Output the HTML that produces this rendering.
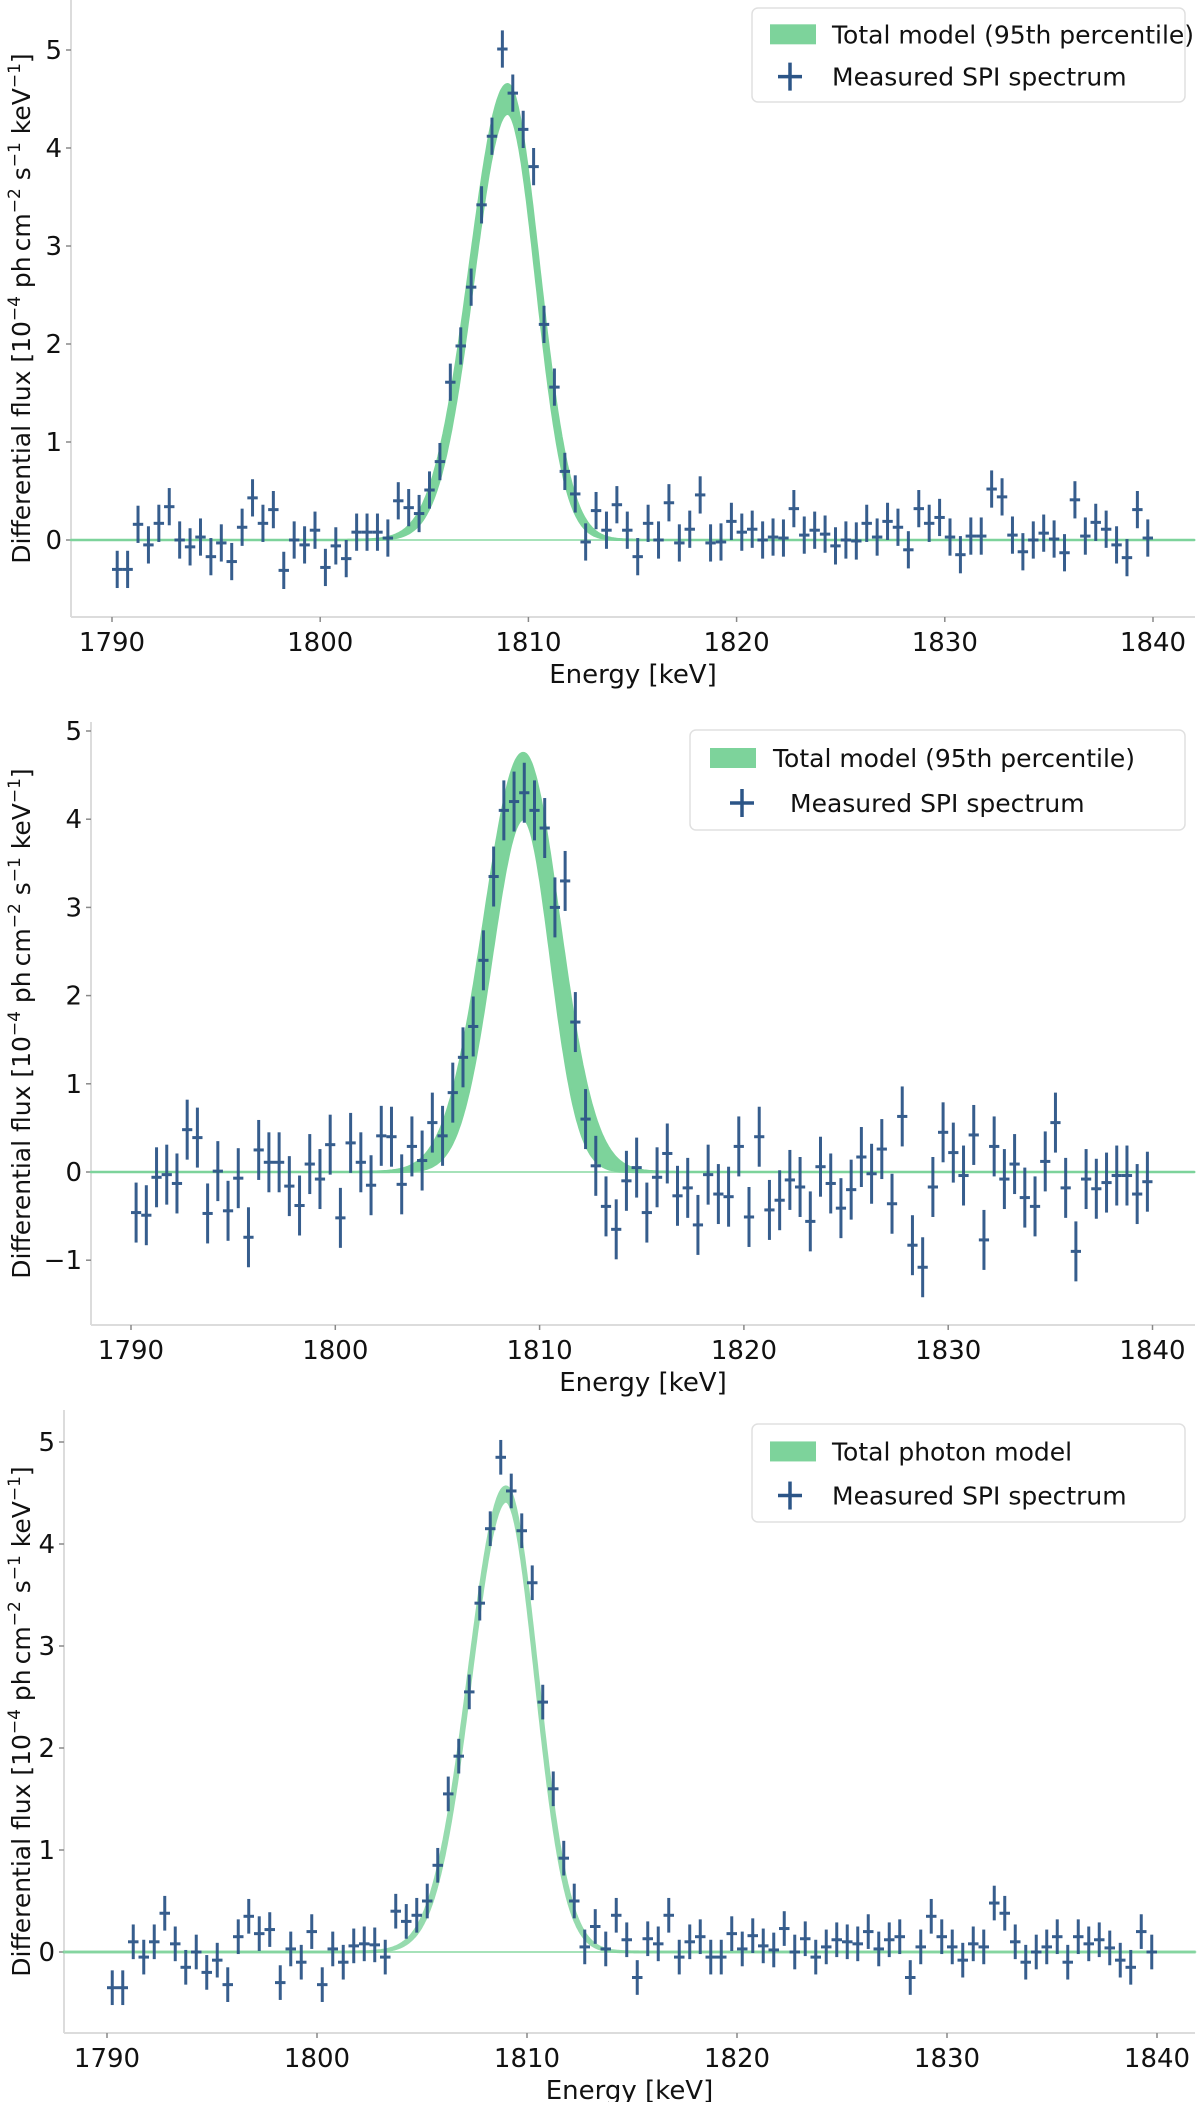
<!DOCTYPE html>
<html>
<head>
<meta charset="utf-8">
<style>
  html,body{margin:0;padding:0;background:#fff;}
  svg{display:block;font-family:"DejaVu Sans","Liberation Sans",sans-serif;}
</style>
</head>
<body>
<svg id="fig" width="1200" height="2102" viewBox="0 0 1200 2102" xmlns="http://www.w3.org/2000/svg"></svg>
<script>
// ---------- data ----------
const energy = [1790.25,1790.75,1791.25,1791.75,1792.25,1792.75,1793.25,1793.75,1794.25,1794.75,
1795.25,1795.75,1796.25,1796.75,1797.25,1797.75,1798.25,1798.75,1799.25,1799.75,
1800.25,1800.75,1801.25,1801.75,1802.25,1802.75,1803.25,1803.75,1804.25,1804.75,
1805.25,1805.75,1806.25,1806.75,1807.25,1807.75,1808.25,1808.75,1809.25,1809.75,
1810.25,1810.75,1811.25,1811.75,1812.25,1812.75,1813.25,1813.75,1814.25,1814.75,
1815.25,1815.75,1816.25,1816.75,1817.25,1817.75,1818.25,1818.75,1819.25,1819.75,
1820.25,1820.75,1821.25,1821.75,1822.25,1822.75,1823.25,1823.75,1824.25,1824.75,
1825.25,1825.75,1826.25,1826.75,1827.25,1827.75,1828.25,1828.75,1829.25,1829.75,
1830.25,1830.75,1831.25,1831.75,1832.25,1832.75,1833.25,1833.75,1834.25,1834.75,
1835.25,1835.75,1836.25,1836.75,1837.25,1837.75,1838.25,1838.75,1839.25,1839.75];

const flux1 = [-0.30,-0.30,0.16,-0.05,0.17,0.34,0.00,-0.07,0.03,-0.17,
-0.03,-0.22,0.13,0.43,0.17,0.31,-0.31,0.00,-0.05,0.10,
-0.28,-0.06,-0.19,0.08,0.08,0.08,0.02,0.40,0.33,0.27,
0.51,0.80,1.61,1.98,2.58,3.42,4.12,5.01,4.56,4.19,
3.81,2.20,1.56,0.70,0.47,-0.02,0.30,0.10,0.36,0.10,
-0.17,0.17,0.00,0.38,-0.03,0.11,0.46,-0.03,-0.02,0.19,
0.08,0.11,0.00,0.03,0.02,0.32,0.05,0.10,0.06,-0.06,
0.00,-0.01,0.17,0.03,0.19,0.13,-0.10,0.32,0.17,0.23,
0.03,-0.15,0.04,0.04,0.52,0.44,0.05,-0.12,0.00,0.07,
0.01,-0.13,0.41,0.04,0.18,0.11,-0.05,-0.18,0.31,0.02];

const flux2 = [-0.46,-0.49,-0.06,-0.03,-0.13,0.48,0.39,-0.47,0.01,-0.44,
-0.07,-0.74,0.25,0.11,0.11,-0.16,-0.38,0.09,-0.08,0.31,
-0.52,0.33,0.11,-0.15,0.41,0.40,-0.14,0.29,0.13,0.56,
0.41,0.90,1.30,1.65,2.40,3.35,4.10,4.20,4.30,4.10,
3.90,3.00,3.30,1.70,0.60,0.07,-0.39,-0.65,-0.10,0.05,
-0.46,-0.06,0.21,-0.27,-0.18,-0.60,-0.03,-0.25,-0.28,0.29,
-0.51,0.40,-0.43,-0.32,-0.09,-0.17,-0.56,0.06,-0.13,-0.41,
-0.20,0.17,-0.02,0.26,-0.36,0.63,-0.83,-1.08,-0.17,0.45,
0.22,-0.04,0.42,-0.77,0.29,-0.08,0.09,-0.29,-0.39,0.12,
0.56,-0.18,-0.90,-0.08,-0.19,-0.12,-0.04,-0.04,-0.25,-0.11];

const flux3 = [-0.35,-0.35,0.10,-0.05,0.10,0.38,0.08,-0.15,0.00,-0.20,
-0.08,-0.32,0.15,0.35,0.18,0.22,-0.30,0.03,-0.10,0.20,
-0.32,0.03,-0.10,0.06,0.08,0.07,-0.05,0.40,0.30,0.36,
0.50,0.85,1.55,1.92,2.55,3.42,4.15,4.85,4.52,4.13,
3.62,2.45,1.60,0.92,0.50,0.05,0.25,0.03,0.36,0.12,
-0.25,0.13,0.08,0.36,-0.05,0.10,0.15,-0.05,-0.05,0.18,
0.03,0.16,0.06,0.02,0.23,0.00,0.13,-0.05,0.05,0.12,
0.10,0.08,0.20,0.03,0.12,0.15,-0.25,0.05,0.35,0.15,
0.05,-0.08,0.08,0.05,0.48,0.38,0.10,-0.10,0.00,0.05,
0.15,-0.10,0.15,0.08,0.12,0.04,-0.08,-0.15,0.20,0.00];

const errHalf = [0.19, 0.34, 0.17];
const modelCenter = [1809.0, 1809.2, 1809.0];
const modelAmpLow = [4.35, 4.00, 4.42];
const modelAmpHigh = [4.65, 4.75, 4.56];
const sigmaLeftLow = [1.65, 1.55, 1.68];
const sigmaLeftHigh = [1.80, 1.90, 1.75];
const sigmaRightLow = [1.38, 1.35, 1.42];
const sigmaRightHigh = [1.50, 1.75, 1.48];
const xTicks = [1790, 1800, 1810, 1820, 1830, 1840];
const yTicks1 = [0, 1, 2, 3, 4, 5];
const yTicks2 = [-1, 0, 1, 2, 3, 4, 5];
const yTicks3 = [0, 1, 2, 3, 4, 5];
const legendModel = ["Total model (95th percentile)", "Total model (95th percentile)", "Total photon model"];
const legendData = "Measured SPI spectrum";

// ---------- layout ----------
const panels = [
  {left:71, right:1195, top:0, bottom:617, xRef:112, kx:20.82, y0:540, ky:98, flux:flux1, yt:yTicks1,
   leg:{x:752,y:8,w:433,h:94,patchX:770,text1X:832,crossX:790,text2X:832}},
  {left:91, right:1195, top:722, bottom:1325, xRef:131, kx:20.43, y0:1172, ky:88.2, flux:flux2, yt:yTicks2,
   leg:{x:690,y:730,w:495,h:100,patchX:710,text1X:773,crossX:742,text2X:790}},
  {left:64, right:1195, top:1410, bottom:2033, xRef:107, kx:21.0, y0:1952, ky:102, flux:flux3, yt:yTicks3,
   leg:{x:752,y:1424,w:433,h:98,patchX:770,text1X:832,crossX:790,text2X:832}}
];

const NS = "http://www.w3.org/2000/svg";
const svg = document.getElementById('fig');
function mk(tag, attrs, parent){
  const e = document.createElementNS(NS, tag);
  for (const k in attrs) e.setAttribute(k, attrs[k]);
  (parent||svg).appendChild(e);
  return e;
}
const DATA_COLOR = "#2c5587";
const MODEL_COLOR = "#7dd39b";

function modelVal(E, c, A, sL, sR){
  const s = E < c ? sL : sR;
  return A * Math.exp(-(E-c)*(E-c)/(2*s*s));
}

panels.forEach((p, pi) => {
  const g = mk('g', {});
  
  
  const X = E => p.xRef + (E - 1790) * p.kx;
  const Y = v => p.y0 - v * p.ky;
  const xMinE = 1790 - (p.xRef - p.left) / p.kx;
  const xMaxE = 1790 + (p.right - p.xRef) / p.kx;

  const sl = mk('line', {x1:p.left, y1:p.top, x2:p.left, y2:p.bottom, stroke:'#dcdcdc', 'stroke-width':2}, g);
  
  
  const sb = mk('line', {x1:p.left, y1:p.bottom, x2:p.right, y2:p.bottom, stroke:'#dcdcdc', 'stroke-width':2}, g);
  
  

  xTicks.forEach(t => {
    const tk = mk('line', {x1:X(t), y1:p.bottom, x2:X(t), y2:p.bottom+5, stroke:'#888', 'stroke-width':1.5}, g);
    
    
    const tl = mk('text', {x:X(t), y:p.bottom+34, 'font-size':26, 'text-anchor':'middle', fill:'#111'}, g);
    tl.textContent = String(t);
    
    
  });
  p.yt.forEach(t => {
    const tk = mk('line', {x1:p.left-5, y1:Y(t), x2:p.left, y2:Y(t), stroke:'#888', 'stroke-width':1.5}, g);
    
    
    const tl = mk('text', {x:p.left-9, y:Y(t)+9, 'font-size':26, 'text-anchor':'end', fill:'#111'}, g);
    tl.textContent = t < 0 ? '\u2212' + Math.abs(t) : String(t);
    
    
  });

  const xl = mk('text', {x:(p.left+p.right)/2, y:p.bottom+66, 'font-size':26, 'text-anchor':'middle', fill:'#111'}, g);
  xl.textContent = 'Energy [keV]';
  
  

  const cy = (p.top + p.bottom)/2;
  const yl = mk('text', {x:0, y:0, 'font-size':25, 'text-anchor':'middle', fill:'#111',
    transform:'translate(30,'+cy+') rotate(-90)'}, g);
  
  
  const parts = [['Differential flux [10',0],['\u22124',1],[' ph\u2009cm',0],['\u22122',1],[' s',0],['\u22121',1],[' keV',0],['\u22121',1],[']',0]];
  let raised = false;
  parts.forEach(([s,sup]) => {
    let dy = 0;
    if (sup && !raised) { dy = -10; raised = true; }
    else if (!sup && raised) { dy = 10; raised = false; }
    const ts = mk('tspan', {'font-size': sup ? 17 : 25, dy: dy}, yl);
    ts.textContent = s;
  });

  const bl = mk('line', {x1:p.left+1, y1:Y(0), x2:p.right, y2:Y(0), stroke:'#a6e2b9', 'stroke-width':2}, g);
  
  

  const up = [], lo = [];
  for (let E = xMinE; E <= xMaxE; E += 0.05) {
    up.push(X(E).toFixed(1) + ',' + Y(modelVal(E, modelCenter[pi], modelAmpHigh[pi], sigmaLeftHigh[pi], sigmaRightHigh[pi])).toFixed(1));
    lo.push(X(E).toFixed(1) + ',' + Y(modelVal(E, modelCenter[pi], modelAmpLow[pi], sigmaLeftLow[pi], sigmaRightLow[pi])).toFixed(1));
  }
  const band = mk('polygon', {points: up.concat(lo.reverse()).join(' '), fill:MODEL_COLOR, stroke:MODEL_COLOR, 'stroke-width': pi===2 ? 3 : 2.5, 'stroke-linejoin':'round', opacity: pi===2 ? 0.8 : 1}, g);
  
  

  const err = errHalf[pi];
  energy.forEach((E, i) => {
    const v = p.flux[i];
    const cg = mk('g', {stroke:DATA_COLOR, 'stroke-width':3, opacity:0.95}, g);
    
    
    mk('line', {x1:X(E), y1:Y(v-err), x2:X(E), y2:Y(v+err)}, cg);
    mk('line', {x1:X(E-0.25), y1:Y(v), x2:X(E+0.25), y2:Y(v)}, cg);
  });

  const L = p.leg;
  const lg = mk('g', {}, g);
  
  
  mk('rect', {x:L.x, y:L.y, width:L.w, height:L.h, rx:6, fill:'#fff', 'fill-opacity':0.85, stroke:'#e0e0e0', 'stroke-width':1.5}, lg);
  const y1 = L.y + L.h*0.28, y2 = L.y + L.h*0.73;
  const patch = mk('rect', {x:L.patchX, y:y1-10, width:46, height:20, fill:MODEL_COLOR}, lg);
  
  
  const t1 = mk('text', {x:L.text1X, y:y1+9, 'font-size':25, fill:'#111'}, lg);
  t1.textContent = legendModel[pi];
  
  
  const cr = mk('g', {stroke:DATA_COLOR, 'stroke-width':3.5}, lg);
  
  
  mk('line', {x1:L.crossX-12, y1:y2, x2:L.crossX+12, y2:y2}, cr);
  mk('line', {x1:L.crossX, y1:y2-14, x2:L.crossX, y2:y2+14}, cr);
  const t2 = mk('text', {x:L.text2X, y:y2+9, 'font-size':25, fill:'#111'}, lg);
  t2.textContent = legendData;
  
  
});
</script>
</body>
</html>
